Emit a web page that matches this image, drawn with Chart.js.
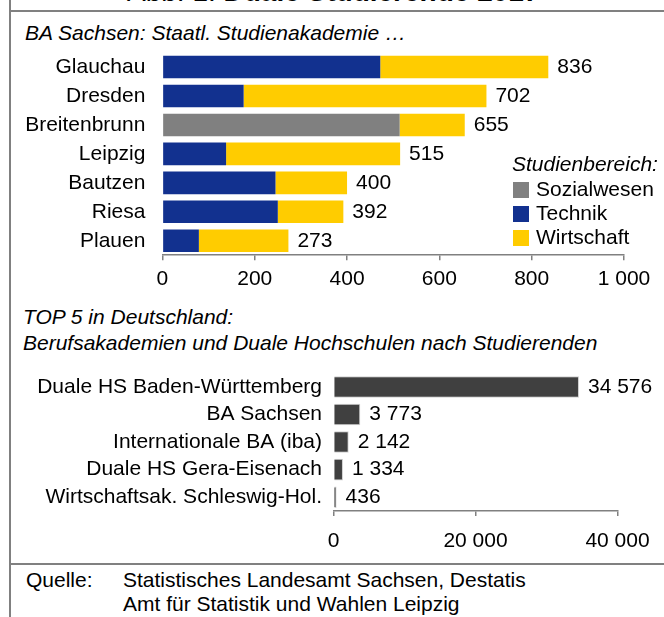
<!DOCTYPE html>
<html>
<head>
<meta charset="utf-8">
<script src="https://cdn.jsdelivr.net/npm/chart.js@4"></script>
<style>
  body { margin: 0; background: #fff; font-family: "Liberation Sans", Arial, sans-serif; }
  #page { position: relative; width: 664px; height: 617px; overflow: hidden; background: #fff; }
  .t { position: absolute; font-size: 21px; line-height: 21px; white-space: nowrap; color: #000; }
  .i { font-style: italic; }
  .line { position: absolute; background: #808080; }
  canvas { position: absolute; }
</style>
</head>
<body>
<div id="page">
  <div class="line" style="left:9px;top:0;width:2px;height:617px"></div>
  <div class="line" style="left:9px;top:10px;width:655px;height:2px"></div>
  <div class="line" style="left:9px;top:563px;width:655px;height:2px"></div>

  <div class="t" style="left:127px;top:-22px;font-size:28px;line-height:28px">Abb. 1: <b>Duale Studierende 2017</b></div>
  <div class="t i" style="left:25px;top:22px">BA Sachsen: Staatl. Studienakademie …</div>
  <div class="t i" style="left:23px;top:306px">TOP 5 in Deutschland:</div>
  <div class="t i" style="left:23px;top:332px">Berufsakademien und Duale Hochschulen nach Studierenden</div>
  <div class="t" style="left:26px;top:569px">Quelle:</div>
  <div class="t" style="left:123px;top:569px">Statistisches Landesamt Sachsen, Destatis</div>
  <div class="t" style="left:123px;top:593px">Amt für Statistik und Wahlen Leipzig</div>

  <canvas id="standorte" width="664" height="260" style="left:0;top:40px"></canvas>
  <canvas id="top5" width="664" height="200" style="left:0;top:360px"></canvas>
</div>

<script>
// BA Sachsen, Studierende je Standort nach Studienbereich
const orte = ['Glauchau', 'Dresden', 'Breitenbrunn', 'Leipzig', 'Bautzen', 'Riesa', 'Plauen'];
const sozialwesen = [0, 0, 514, 0, 0, 0, 0];
const technik = [472, 176, 0, 138, 245, 250, 79];
const wirtschaft = [364, 526, 141, 377, 155, 142, 194];

// TOP 5 in Deutschland
const hochschulen = ['Duale HS Baden-Württemberg', 'BA Sachsen', 'Internationale BA (iba)', 'Duale HS Gera-Eisenach', 'Wirtschaftsak. Schleswig-Hol.'];
const studierende = [34576, 3773, 2142, 1334, 436];

const FONT = '"Liberation Sans", Arial, sans-serif';
Chart.defaults.font.family = FONT;
Chart.defaults.font.size = 21;
Chart.defaults.color = '#000';

const fmt = (v) => String(v).replace(/\B(?=(\d{3})+(?!\d))/g, ' ');

// keine automatischen Randabstände der Achsen
const noPad = (s) => { s.paddingTop = 0; s.paddingBottom = 0; s.paddingLeft = 0; s.paddingRight = 0; };

// Summe rechts neben dem Balken
const totalLabels = {
  id: 'totalLabels',
  afterDatasetsDraw(chart) {
    const ctx = chart.ctx;
    ctx.save();
    ctx.font = '21px ' + FONT;
    ctx.fillStyle = '#000';
    ctx.textBaseline = 'middle';
    ctx.textAlign = 'left';
    chart.data.labels.forEach((l, i) => {
      let sum = 0, end = null, y = null;
      chart.data.datasets.forEach((ds, d) => {
        const v = ds.data[i];
        sum += v;
        if (v > 0) {
          const bar = chart.getDatasetMeta(d).data[i];
          end = bar.x;
          y = bar.y;
        }
      });
      ctx.fillText(fmt(sum), end + 9, y);
    });
    ctx.restore();
  }
};

// Legende innerhalb der Grafik
const boxLegend = {
  id: 'boxLegend',
  afterDraw(chart) {
    const ctx = chart.ctx;
    ctx.save();
    ctx.fillStyle = '#000';
    ctx.textBaseline = 'middle';
    ctx.font = 'italic 21px ' + FONT;
    ctx.fillText('Studienbereich:', 512, 125);
    ctx.font = '21px ' + FONT;
    chart.data.datasets.forEach((ds, i) => {
      const y = 142 + i * 24;
      ctx.fillStyle = ds.backgroundColor;
      ctx.fillRect(513, y, 16, 16);
      ctx.fillStyle = '#000';
      ctx.fillText(ds.label, 536, y + 8);
    });
    ctx.restore();
  }
};

const axisX = (max, step, pad, h) => ({
  min: 0,
  max: max,
  grid: { display: true, drawOnChartArea: false, drawTicks: true, tickLength: 5, color: '#808080', lineWidth: 1.5 },
  border: { display: true, color: '#808080', width: 1.5 },
  ticks: { stepSize: step, padding: pad, maxRotation: 0, callback: (v) => fmt(v) },
  afterFit: (s) => { noPad(s); s.height = h; }
});

const axisY = (w, pad) => ({
  grid: { display: false, drawTicks: false },
  border: { display: false },
  ticks: { padding: pad, autoSkip: false },
  afterFit: (s) => { noPad(s); s.width = w; }
});

new Chart(document.getElementById('standorte').getContext('2d'), {
  type: 'bar',
  data: {
    labels: orte,
    datasets: [
      { label: 'Sozialwesen', data: sozialwesen, backgroundColor: '#808080' },
      { label: 'Technik', data: technik, backgroundColor: '#12318f' },
      { label: 'Wirtschaft', data: wirtschaft, backgroundColor: '#ffcc00' }
    ]
  },
  options: {
    indexAxis: 'y',
    responsive: false,
    animation: false,
    layout: { padding: { top: 12.6, right: 40, bottom: 8.8, left: 0 } },
    datasets: { bar: { categoryPercentage: 1, barPercentage: 0.78, borderWidth: 0 } },
    plugins: { legend: { display: false }, tooltip: { enabled: false } },
    scales: {
      x: Object.assign(axisX(1000, 200, 6, 36), { stacked: true }),
      y: Object.assign(axisY(162.4, 17), { stacked: true })
    }
  },
  plugins: [totalLabels, boxLegend]
});

new Chart(document.getElementById('top5').getContext('2d'), {
  type: 'bar',
  data: {
    labels: hochschulen,
    datasets: [
      { label: 'Studierende', data: studierende, backgroundColor: '#404040', borderColor: '#d0d0d0', borderWidth: 1 }
    ]
  },
  options: {
    indexAxis: 'y',
    responsive: false,
    animation: false,
    layout: { padding: { top: 13.1, right: 46.5, bottom: 5.8, left: 0 } },
    datasets: { bar: { categoryPercentage: 1, barPercentage: 0.78 } },
    plugins: { legend: { display: false }, tooltip: { enabled: false } },
    scales: {
      x: axisX(40000, 20000, 13, 43.2),
      y: axisY(333.5, 11.5)
    }
  },
  plugins: [totalLabels]
});
</script>
</body>
</html>
